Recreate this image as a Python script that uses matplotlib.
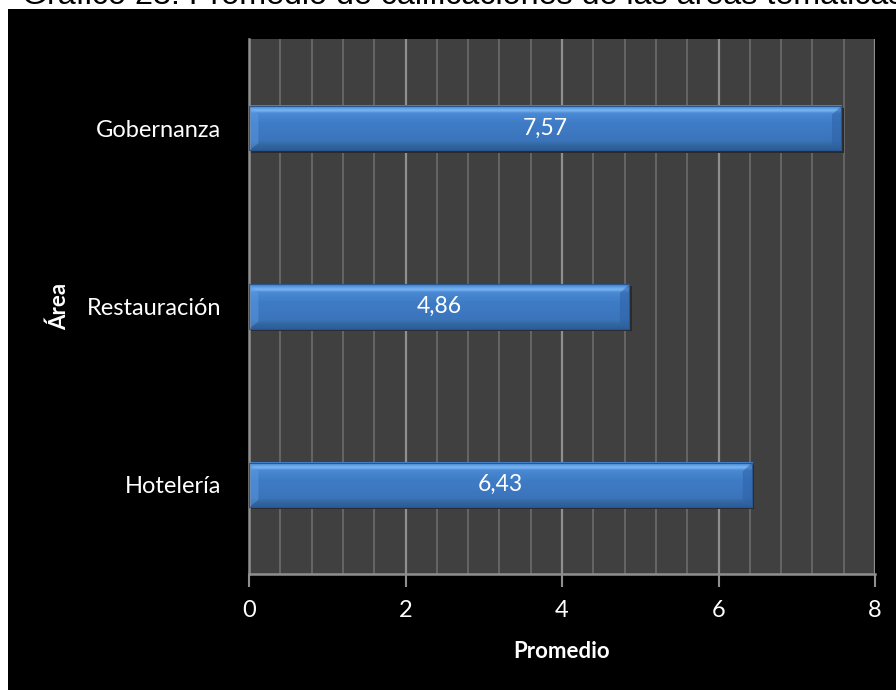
import numpy as np
import matplotlib
matplotlib.use("Agg")
import matplotlib.pyplot as plt
from matplotlib.patches import Rectangle, Polygon
from matplotlib.colors import LinearSegmentedColormap

# data
areas = ["Hotelería", "Restauración", "Gobernanza"]
promedios = [6.43, 4.86, 7.57]
etiquetas = ["6,43", "4,86", "7,57"]
xticks = [0, 2, 4, 6, 8]

plt.rcParams['font.family'] = ['Lato', 'DejaVu Sans']

fig = plt.figure(figsize=(8.96, 6.9), dpi=100, facecolor="white")

# title partly hidden (cut by the top edge of the picture)
fig.text(22 / 896, 1 - 4 / 690, "Gráfico 23: Promedio de calificaciones de las áreas temáticas",
         fontsize=23.2, family="Liberation Sans", color="black", va="baseline", ha="left")
fig.patches.append(Rectangle((8 / 896, 0), 1 - 8 / 896, 1 - 9 / 690,
                             transform=fig.transFigure, facecolor="black",
                             edgecolor="none", zorder=1))

ax = fig.add_axes([249 / 896, 116 / 690, 626 / 896, 535 / 690])
ax.set_facecolor("#404040")
ax.set_zorder(2)

# gridlines
for v in np.arange(0.4, 8.01, 0.4):
    major = abs(v / 2 - round(v / 2)) < 1e-6
    ax.axvline(v, color="#8f8f8f" if major else "#686868",
               lw=1.6 if major else 1.3, zorder=0.5)

# bars with gradient and bevels
h = 0.25
cmap = LinearSegmentedColormap.from_list("barra", [
    (0.0, "#2b5d9e"), (0.12, "#33689f"), (0.2, "#3b74bb"), (0.6, "#3f7cc6"),
    (0.82, "#4a89d4"), (0.88, "#7bb5f2"), (0.94, "#5a9ae0"), (1.0, "#3e7cc6")])
grad = np.linspace(0, 1, 256).reshape(-1, 1)
bev = 0.12  # bevel width in data units
for i, v in enumerate(promedios):
    # shadow
    ax.add_patch(Rectangle((0.0, i - h / 2 - 0.012), v + 0.03, h,
                           facecolor="#2a2a2a", edgecolor="none", zorder=1))
    ax.imshow(grad, extent=(0, v, i - h / 2, i + h / 2), origin="lower",
              cmap=cmap, aspect="auto", zorder=2, interpolation="bilinear")
    # left bevel (lighter)
    ax.add_patch(Polygon([(0, i - h / 2), (0, i + h / 2), (bev, i + h / 2 - 0.05),
                          (bev, i - h / 2 + 0.04)], closed=True,
                         facecolor="#5d9de6", alpha=0.45, edgecolor="none", zorder=3))
    # right bevel (darker)
    ax.add_patch(Polygon([(v, i - h / 2), (v, i + h / 2), (v - bev, i + h / 2 - 0.05),
                          (v - bev, i - h / 2 + 0.04)], closed=True,
                         facecolor="#2e62a6", alpha=0.55, edgecolor="none", zorder=3))
    ax.add_patch(Rectangle((0, i - h / 2), v, h, facecolor="none",
                           edgecolor="#2a5690", lw=0.8, zorder=4))
    ax.text(v / 2, i, etiquetas[i], color="white", fontsize=16.5,
            ha="center", va="center", zorder=5)

ax.set_aspect("auto")
ax.set_xlim(0, 8)
ax.set_ylim(-0.5, 2.5)

ax.set_yticks(range(len(areas)))
ax.set_yticklabels(areas)
ax.set_xticks(xticks)
ax.tick_params(axis="y", length=0, pad=20, labelsize=17, colors="white")
ax.tick_params(axis="x", length=9, width=1.5, color="#8f8f8f", pad=10,
               labelsize=17, labelcolor="white")

for s in ["top", "right"]:
    ax.spines[s].set_visible(False)
for s in ["left", "bottom"]:
    ax.spines[s].set_color("#8f8f8f")
    ax.spines[s].set_linewidth(1.8)

ax.set_xlabel("Promedio", color="white", fontsize=16, fontweight="bold", labelpad=14)
ax.set_ylabel("Área", color="white", fontsize=16, fontweight="bold", labelpad=12)

fig.savefig("out.png", dpi=100, facecolor=fig.get_facecolor())
